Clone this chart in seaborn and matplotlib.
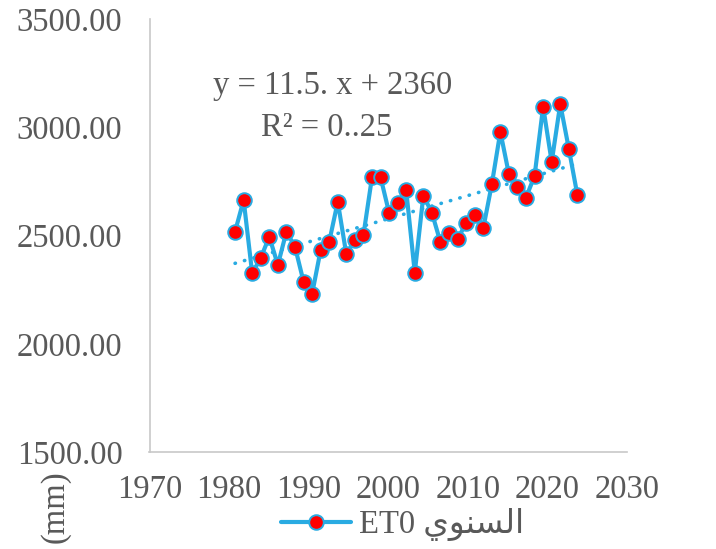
import numpy as np
import pandas as pd
import matplotlib
matplotlib.use("Agg")
import matplotlib.pyplot as plt
import seaborn as sns
from matplotlib.font_manager import FontProperties

# ---- data ----
point_index = list(range(1, 42))
et0_values = [2518, 2664, 2325, 2397, 2494, 2364, 2518, 2448, 2287, 2230,
              2433, 2471, 2656, 2413, 2479, 2502, 2769, 2769, 2605, 2649,
              2708, 2328, 2684, 2605, 2469, 2510, 2482, 2559, 2595, 2533,
              2736, 2979, 2783, 2723, 2675, 2776, 3095, 2840, 3107, 2901,
              2687]
trend_slope = 11.5
trend_intercept = 2360
x_ticks = [1970, 1980, 1990, 2000, 2010, 2020, 2030]
y_ticks = [1500, 2000, 2500, 3000, 3500]
series_label = "ET0 " + "\uFEF1\uFEEE\uFEE8\uFEB4\uFEDF\uFE8D"  # السنوي (visual order)
eq_text = "y = 11.5. x + 2360"
r2_text = "R\u00b2 = 0..25"

df = pd.DataFrame({"idx": point_index, "et0": et0_values})
df["trend"] = trend_slope * df["idx"] + trend_intercept

sns.set_style("white")
plt.rcParams["font.family"] = ["Liberation Serif", "DejaVu Sans"]

TXT = "#595959"
BLUE = "#29ABE2"
FS = 23.5

fig = plt.figure(figsize=(7.16, 5.49), dpi=100)
ax = fig.add_axes([149.5/716, 1-452/549, (627-149.5)/716, (452-19)/549])
ax.set_xlim(1970, 2030)
ax.set_ylim(1500, 3500)
ax.set_xticks(x_ticks)
ax.set_yticks(y_ticks)
ax.set_yticklabels([f"{v:.2f}" for v in y_ticks])
ax.tick_params(axis="both", length=0, labelsize=FS, labelcolor=TXT)
ax.tick_params(axis="y", pad=19.5)
ax.tick_params(axis="x", pad=16)
for s in ["top", "right"]:
    ax.spines[s].set_visible(False)
for s in ["left", "bottom"]:
    ax.spines[s].set_color("#c8c8c8")
    ax.spines[s].set_linewidth(1.2)

ax2 = ax.twiny()
ax2.set_xlim(-9.0, 46.8)
ax2.set_ylim(1500, 3500)
ax2.axis("off")

sns.lineplot(data=df, x="idx", y="trend", ax=ax2, color=BLUE,
             linewidth=2.6, linestyle=(0, (0.1, 2.6)), legend=False)
ax2.lines[-1].set_dash_capstyle("round")
sns.lineplot(data=df, x="idx", y="et0", ax=ax2, color=BLUE, linewidth=3.0,
             marker="o", markersize=10.5, markerfacecolor="#FF0000",
             markeredgecolor=BLUE, markeredgewidth=1.4, label=series_label,
             legend=False)

fig.text(333/716, 1-86/549, eq_text, ha="center", va="center",
         fontsize=FS, color=TXT)
fig.text(327/716, 1-128/549, r2_text, ha="center", va="center",
         fontsize=FS, color=TXT)

ax.set_ylabel("(mm)", fontsize=FS, color=TXT)
ax.yaxis.set_label_coords(-0.166, -0.127)

handles, labels = ax2.get_legend_handles_labels()
leg = ax.legend(handles, labels, loc="center", bbox_to_anchor=(0.53, -0.168),
                frameon=False, handlelength=2.15, handletextpad=0.25,
                prop=FontProperties(family=["Liberation Serif", "DejaVu Sans"], size=FS))
for t in leg.get_texts():
    t.set_color(TXT)

fig.savefig("out.png", dpi=100)
